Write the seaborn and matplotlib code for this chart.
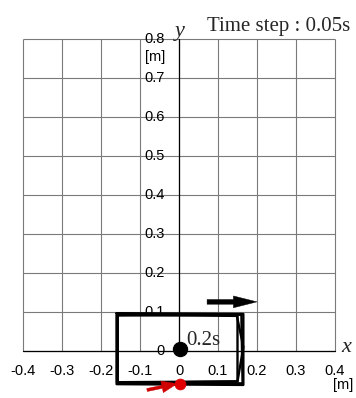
import numpy as np
import pandas as pd
import matplotlib
matplotlib.use("Agg")
import matplotlib.pyplot as plt
import seaborn as sns

# ---- data ----
x_ticks = [-0.4, -0.3, -0.2, -0.1, 0.0, 0.1, 0.2, 0.3, 0.4]
x_tick_labels = ["-0.4", "-0.3", "-0.2", "-0.1", "0", "0.1", "0.2", "0.3", "0.4"]
y_ticks = [0.0, 0.1, 0.2, 0.3, 0.4, 0.5, 0.6, 0.7, 0.8]
y_tick_labels = ["0", "0.1", "0.2", "0.3", "0.4", "0.5", "0.6", "0.7", "0.8"]

# outline of the body at successive time steps (closed polygons)
frame_ids = [1, 2, 3, 4]
frame_x = [
    [-0.160, 0.165, 0.165, -0.160, -0.160],
    [-0.157, 0.150, 0.150, -0.157, -0.157],
    [-0.158, 0.148, 0.165, 0.150, -0.158, -0.158],
    [-0.159, 0.160, 0.163, -0.159, -0.159],
]
frame_y = [
    [0.097, 0.095, -0.087, -0.085, 0.097],
    [0.093, 0.090, -0.078, -0.080, 0.093],
    [0.095, 0.092, 0.010, -0.078, -0.082, 0.095],
    [0.091, 0.093, -0.083, -0.080, 0.091],
]

center_point = (0.003, 0.005)
contact_point = (0.003, -0.085)
label_time = "0.2s"
time_step_text = "Time step : 0.05s"

rows = []
for fid, xs, ys in zip(frame_ids, frame_x, frame_y):
    for i, (xv, yv) in enumerate(zip(xs, ys)):
        rows.append({"frame": fid, "order": i, "x": xv, "y": yv})
df = pd.DataFrame(rows)

# ---- figure ----
sns.set_theme(style="white")
plt.rcParams["font.family"] = ["Liberation Sans", "DejaVu Sans"]

W, H = 356, 398
fig = plt.figure(figsize=(W / 100, H / 100), dpi=100)
ax = fig.add_axes([0, 0, 1, 1])
ppu = 390.0  # pixels per data unit
x0_px, y0_px = 179, 351
ax.set_xlim(-x0_px / ppu, (W - x0_px) / ppu)
ax.set_ylim(-(H - y0_px) / ppu, y0_px / ppu)
ax.set_axis_off()

# grid
grid_c = "#7a7a7a"
ax.vlines(x_ticks, 0, 0.8, color=grid_c, lw=0.8, zorder=1)
ax.hlines(y_ticks, -0.4, 0.4, color=grid_c, lw=0.8, zorder=1)
# axes
ax.plot([0, 0], [0, 0.8], color="black", lw=0.9, zorder=2)
ax.plot([-0.4, 0.4], [0, 0], color="black", lw=0.9, zorder=2)

# tick labels
fs = 10.5
for xv, lab in zip(x_ticks, x_tick_labels):
    ax.text(xv, -0.052, lab, ha="center", va="center", fontsize=fs, color="black", zorder=3)
for yv, lab in zip(y_ticks, y_tick_labels):
    ax.text(-0.036, yv, lab, ha="right", va="center", fontsize=fs, color="black", zorder=3)
ax.text(-0.036, 0.753, "[m]", ha="right", va="center", fontsize=fs, color="black")
ax.text(0.420, -0.087, "[m]", ha="center", va="center", fontsize=fs, color="black")

# axis names
ax.text(0.430, 0.008, "x", ha="center", va="center", fontsize=16,
        family="Liberation Serif", style="italic")
ax.text(0.002, 0.818, "y", ha="center", va="center", fontsize=16,
        family="Liberation Serif", style="italic")
ax.text(0.438, 0.82, time_step_text, ha="right", va="baseline", fontsize=15,
        family="Liberation Serif")

# body outlines
sns.lineplot(data=df, x="x", y="y", units="frame", estimator=None, sort=False,
             color="black", lw=1.7, ax=ax, legend=False, zorder=4)
ax.set_axis_off()

# points
sns.scatterplot(x=[center_point[0]], y=[center_point[1]], s=105, color="black",
                edgecolor="black", ax=ax, zorder=5, legend=False)
sns.scatterplot(x=[contact_point[0]], y=[contact_point[1]], s=60, color="#e00000",
                edgecolor="#e00000", ax=ax, zorder=7, legend=False)
ax.text(0.018, 0.016, label_time, ha="left", va="baseline", fontsize=15,
        family="Liberation Serif")

# arrows
ax.annotate("", xy=(0.200, 0.126), xytext=(0.072, 0.126),
            arrowprops=dict(width=3.4, headwidth=8.5, headlength=17, shrink=0,
                            facecolor="black", edgecolor="black", lw=0.3), zorder=6)
ax.annotate("", xy=(-0.005, -0.084), xytext=(-0.082, -0.100),
            arrowprops=dict(width=2.2, headwidth=8.5, headlength=11, shrink=0,
                            facecolor="#d00000", edgecolor="#d00000", lw=0.3), zorder=6)

ax.set_xlabel("")
ax.set_ylabel("")
fig.savefig("out.png", dpi=100)
